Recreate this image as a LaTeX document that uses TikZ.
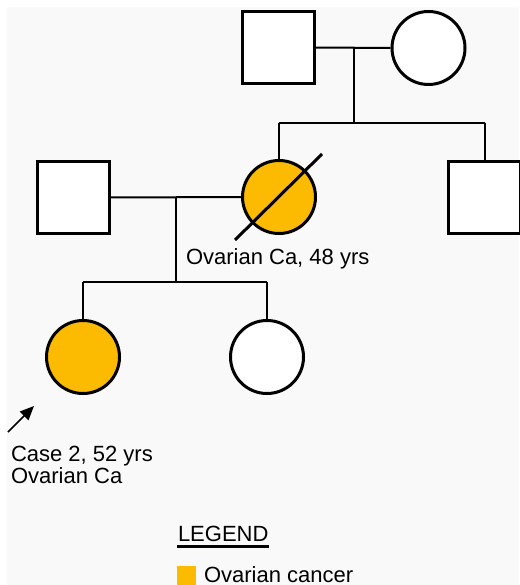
\documentclass[tikz,border=0pt]{standalone}
\usepackage{fontspec}
\setmainfont{Liberation Sans}
\usetikzlibrary{positioning}
\usetikzlibrary{arrows.meta}

\definecolor{ovca}{HTML}{FDBB00}
\definecolor{paper}{HTML}{F9F9F9}

\begin{document}
\begin{tikzpicture}
	[x=1pt, y=-1pt, line width=2pt,
	male/.style = {draw, rectangle, minimum size=72pt, line width=3pt, fill=white},
	female/.style = {draw, circle, minimum size=73pt, line width=3pt, fill=white},
	affected/.style = {fill=ovca},
	lbl/.style = {font=\fontsize{22}{22}\selectfont, inner sep=0pt}]
	\useasboundingbox (0,0) rectangle (519,585);
	\fill[paper] (7,7) rectangle (519,585);
	% generation I
	\node[male] (gf) at (278.5,47.5) {};
	\node[female] (gm) at (428.5,48) {};
	% generation II
	\node[female, affected] (mo) at (279,197) {};
	\node[male] (br) at (484.5,197.5) {};
	\node[male] (fa) at (73,197.5) {};
	% generation III
	\node[female, affected] (d1) at (83,357) {};
	\node[female] (d2) at (267,357) {};
	% connectors
	\coordinate (m1) at (354,48);
	\coordinate (s1) at (354,123);
	\coordinate (m2) at (176,197);
	\coordinate (s2) at (176,282);
	\draw (gf) -- (gm);
	\draw (m1) -- (s1);
	\draw (mo.north |- s1) -- (br.north |- s1);
	\draw (mo.north |- s1) -- (mo.north);
	\draw (br.north |- s1) -- (br.north);
	\draw (fa) -- (mo);
	\draw (m2) -- (s2);
	\draw (d1.north |- s2) -- (d2.north |- s2);
	\draw (d1.north |- s2) -- (d1.north);
	\draw (d2.north |- s2) -- (d2.north);
	\draw[line width=3pt] (mo.center) ++(-44,43) -- ++(87,-86);
	% labels
	\node[lbl, anchor=base west] (molbl) at (185,264) {Ovarian Ca, 48 yrs};
	\coordinate (ptail) at (8,432);
	\coordinate (phead) at (34,406);
	\draw[line width=1.5pt, -{Stealth[length=14pt, width=12pt, inset=0pt]}] (ptail) -- (phead);
	\node[lbl, anchor=base west] (case) at (10,461) {Case 2, 52 yrs};
	\node[lbl, anchor=base west] (caseca) at (10,483) {Ovarian Ca};
	% legend
	\node[lbl, anchor=base west] (legend) at (177,541) {LEGEND};
	\draw[line width=2.5pt] ([yshift=-5.5pt]legend.base west) -- ([yshift=-5.5pt]legend.base east);
	\node[fill=ovca, minimum size=19pt, inner sep=0pt] (key) at (186.5,575.5) {};
	\node[lbl, anchor=base west] (keylbl) at (203,582) {Ovarian cancer};
\end{tikzpicture}
\end{document}
